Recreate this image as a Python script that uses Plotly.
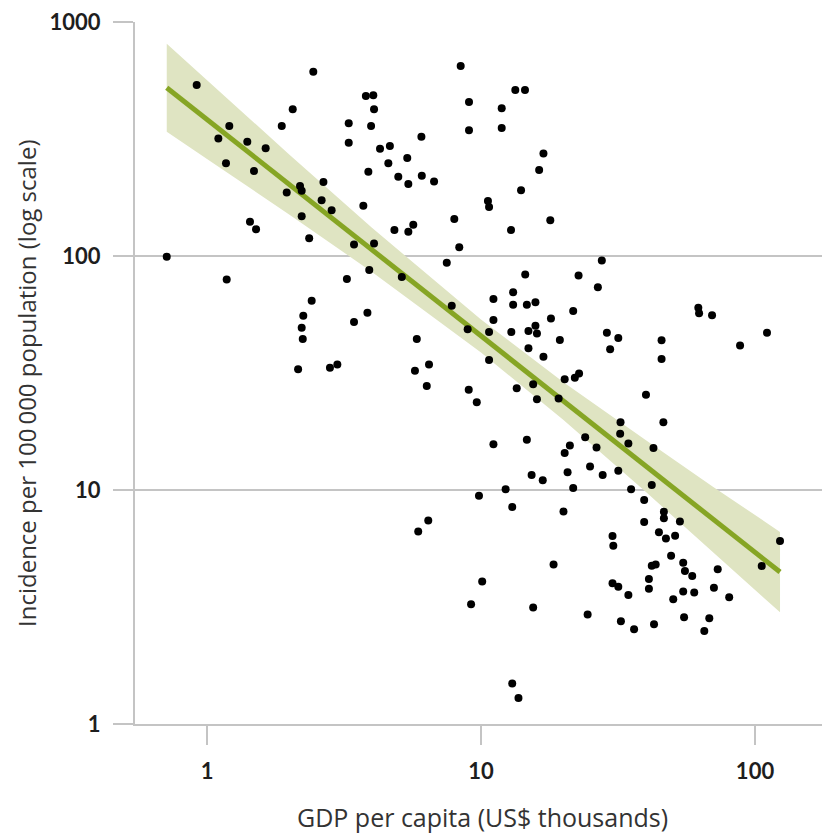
import plotly.graph_objects as go

# GDP per capita (US$ thousands) and incidence per 100 000 population
gdp = [0.917, 0.713, 2.055, 1.874, 1.206, 1.10, 1.403, 1.637, 1.173, 1.484,
       1.954, 1.435, 1.51, 1.18, 2.443, 8.43, 3.80, 4.045, 4.07, 9.04,
       11.9, 13.34, 14.47, 3.29, 3.97, 9.04, 11.9, 6.06, 3.29, 4.28,
       4.65, 5.38, 4.59, 16.9, 16.3, 3.88, 4.99, 5.43, 6.08, 6.74,
       2.66, 2.185, 2.216, 14.0, 2.62, 2.85, 3.72, 10.6, 10.7, 2.216,
       7.99, 17.9, 4.83, 5.43, 5.66, 12.87, 2.36, 3.44, 4.07, 8.33,
       7.50, 3.91, 3.24, 5.14, 14.5, 22.7, 27.6, 2.15, 2.41, 2.246,
       2.216, 2.236, 3.85, 3.44, 2.81, 2.99, 5.83, 5.74, 6.46, 6.34,
       7.82, 8.94, 10.7, 10.7, 9.02, 9.65, 11.1, 13.1, 13.1, 14.7,
       15.8, 11.1, 12.9, 14.9, 15.8, 16.0, 18.0, 21.7, 19.4, 14.9,
       16.9, 20.2, 22.0, 22.8, 13.5, 15.5, 16.0, 19.2, 11.1, 14.7,
       21.1, 20.2, 15.3, 16.8, 20.7, 21.7, 9.83, 12.3, 13.0, 20.0,
       6.42, 5.90, 26.7, 62.1, 62.5, 69.7, 28.8, 31.7, 29.6, 45.6,
       45.6, 88.2, 110.6, 40.0, 32.3, 46.3, 32.2, 34.5, 24.0, 26.4,
       42.6, 25.0, 27.8, 31.7, 35.3, 42.0, 39.4, 46.5, 46.5, 39.4,
       53.2, 30.2, 30.4, 44.6, 47.3, 51.1, 123.4, 10.1, 9.20, 15.5,
       18.4, 13.0, 13.7, 24.5, 105.8, 49.4, 42.0, 43.4, 54.7, 55.5,
       59.0, 73.1, 41.0, 41.0, 30.2, 31.7, 34.5, 54.7, 60.0, 50.3,
       70.8, 80.5, 32.4, 36.2, 42.8, 55.1, 68.1, 65.3]

incidence = [538, 99.3, 424, 359, 359, 318, 308, 289, 249, 231,
             187, 140, 130, 79.4, 613, 649, 483, 486, 424, 455,
             428, 512, 512, 369, 359, 345, 352, 323, 305, 287,
             295, 262, 249, 274, 233, 229, 218, 203, 220, 208,
             207, 199, 190, 191, 173, 157, 164, 172, 162, 148,
             144, 142, 129, 127, 136, 129, 119, 112, 113, 109,
             93.6, 87.1, 79.8, 81.3, 83.4, 82.5, 95.7, 32.8, 64.4, 55.6,
             49.4, 44.2, 57.2, 52.2, 33.3, 34.4, 44.2, 32.3, 34.4, 27.8,
             61.3, 48.6, 47.3, 35.9, 26.8, 23.7, 65.5, 70.0, 61.9, 61.9,
             63.4, 53.3, 47.3, 47.8, 50.4, 46.6, 54.0, 58.2, 43.8, 40.3,
             37.1, 29.7, 30.2, 31.5, 27.2, 28.3, 24.4, 24.6, 15.7, 16.4,
             15.5, 14.4, 11.6, 11.0, 11.9, 10.2, 9.45, 10.07, 8.46, 8.09,
             7.41, 6.65, 73.5, 60.1, 56.9, 55.8, 47.0, 44.6, 39.9, 43.6,
             36.3, 41.4, 47.0, 25.5, 19.5, 19.5, 17.4, 15.8, 16.8, 15.2,
             15.1, 12.6, 11.6, 12.1, 10.07, 10.5, 9.06, 8.08, 7.57, 7.30,
             7.33, 6.36, 5.78, 6.60, 6.20, 6.37, 6.05, 4.06, 3.25, 3.15,
             4.81, 1.49, 1.29, 2.94, 4.73, 5.24, 4.75, 4.81, 4.89, 4.51,
             4.29, 4.58, 4.17, 3.78, 3.99, 3.86, 3.56, 3.68, 3.65, 3.41,
             3.82, 3.48, 2.75, 2.54, 2.67, 2.86, 2.83, 2.50]

# Fitted trend line and its confidence band
fit_gdp = [0.713, 123.4]
fit_inc = [524, 4.46]
band_gdp = [0.713, 1, 2, 4, 10, 20, 40, 70, 123.4]
band_upper = [807, 563, 271, 132, 53.5, 28.9, 16.3, 10.36, 6.62]
band_lower = [340, 260, 150, 85.5, 38.7, 19.9, 9.80, 5.45, 3.0]

x_ticks = [1, 10, 100]
y_ticks = [1, 10, 100, 1000]

GRID = "#c4c4c4"
TICK_FONT = "Lato"
TITLE_FONT = "Open Sans"

fig = go.Figure()
fig.add_trace(go.Scatter(
    x=band_gdp + band_gdp[::-1], y=band_upper + band_lower[::-1],
    fill="toself", fillcolor="#dfe4c2", line=dict(width=0),
    mode="lines", hoverinfo="skip", showlegend=False))
fig.add_trace(go.Scatter(
    x=fit_gdp, y=fit_inc, mode="lines",
    line=dict(color="#86a524", width=5), showlegend=False))
fig.add_trace(go.Scatter(
    x=gdp, y=incidence, mode="markers",
    marker=dict(color="black", size=8), showlegend=False))

# the page adds an 8 px body margin, so the figure is 8 px smaller
fig.update_layout(
    width=822, height=827,
    margin=dict(l=127, r=0, t=14, b=111),
    paper_bgcolor="white", plot_bgcolor="white",
    font=dict(family=TICK_FONT, color="#222222"),
    showlegend=False,
)
fig.update_xaxes(
    type="log", range=[-0.2628, 2.2737],
    tickvals=x_ticks, ticktext=[str(v) for v in x_ticks],
    showgrid=False, zeroline=False,
    showline=True, linecolor=GRID, linewidth=2,
    ticks="outside", ticklen=19, tickwidth=2, tickcolor=GRID,
    tickfont=dict(family=TICK_FONT, size=22, color="#1e1e1e", weight="bold"),
    ticklabelstandoff=8, ticklabeloverflow="allow",
)
fig.update_yaxes(
    type="log", range=[0, 3],
    tickvals=y_ticks, ticktext=[str(v) for v in y_ticks],
    showgrid=True, gridcolor=GRID, gridwidth=2, zeroline=False,
    showline=True, linecolor=GRID, linewidth=2,
    ticks="outside", ticklen=20, tickwidth=2, tickcolor=GRID,
    tickfont=dict(family=TICK_FONT, size=22, color="#1e1e1e", weight="bold"),
    ticklabelstandoff=8, ticklabeloverflow="allow",
)
fig.add_annotation(
    text="GDP per capita (US$ thousands)", xref="paper", yref="paper",
    x=0.5, y=-(817 - 724) / 702, xanchor="center", yanchor="middle",
    showarrow=False, font=dict(family=TITLE_FONT, size=25, color="#333333"))
fig.add_annotation(
    text="Incidence per 100\u2009000 population (log scale)", xref="paper", yref="paper",
    x=-(135 - 26) / 695, y=(724 - 384) / 702, xanchor="center", yanchor="middle",
    textangle=-90, showarrow=False, font=dict(family=TITLE_FONT, size=24, color="#333333"))

fig.write_html("out.html")
